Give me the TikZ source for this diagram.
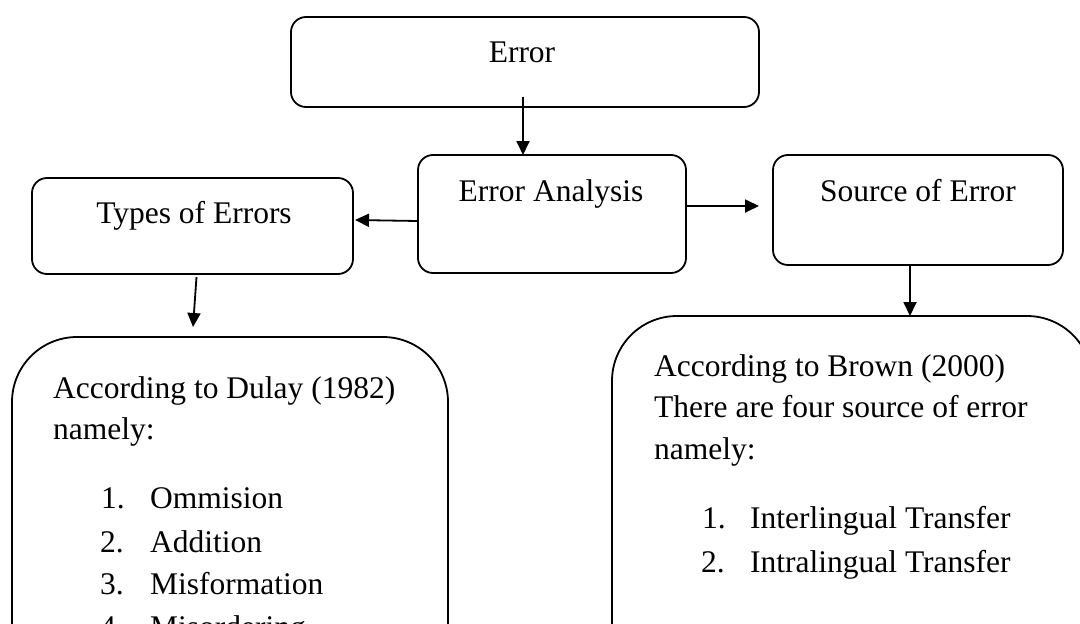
\documentclass[tikz,border=0pt]{standalone}
\usepackage{fontspec}
\setmainfont{Liberation Serif}
\usetikzlibrary{arrows.meta}
\tikzset{
  box/.style={draw, line width=1.8pt, rounded corners=15pt, inner sep=0pt, outer sep=0pt},
  bigbox/.style={draw, line width=1.8pt, rounded corners=65pt, inner sep=0pt, outer sep=0pt},
  txt/.style={anchor=base, inner sep=0pt, font=\fontsize{31.5}{40}\selectfont},
  txtl/.style={txt, anchor=base west},
  arr/.style={line width=1.8pt, -{Triangle[length=14pt,width=13pt]}}
}
\begin{document}
\begin{tikzpicture}[x=1pt, y=-1pt]
  \useasboundingbox (0,0) rectangle (1080,624);
  \clip (0,0) rectangle (1080,624);

  % upper boxes
  \node[box, minimum width=468pt, minimum height=90pt] (err) at (525,62) {};
  \node[box, minimum width=268pt, minimum height=118pt] (ea) at (552,214) {};
  \node[box, minimum width=321pt, minimum height=96pt] (types) at (192.5,226) {};
  \node[box, minimum width=290pt, minimum height=110pt] (src) at (918,210) {};

  % lower boxes (running past the lower edge)
  \node[bigbox, minimum width=436pt, minimum height=400pt] (lbox) at (230,537) {};
  \node[bigbox, minimum width=480pt, minimum height=420pt] (rbox) at (852,526) {};

  % box titles
  \node[txt] (terr) at (522,62) {Error};
  \node[txt] (tea) at (551,201) {Error Analysis};
  \node[txt] (ttypes) at (194,223) {Types of Errors};
  \node[txt] (tsrc) at (918,201) {Source of Error};

  % left list
  \node[txtl] (l1) at (53,398) {According to Dulay (1982)};
  \node[txtl] (l2) at (53,439) {namely:};
  \node[txtl] (n1) at (101,508) {1.};
  \node[txtl] (i1) at (150,508) {Ommision};
  \node[txtl] (n2) at (100,552) {2.};
  \node[txtl] (i2) at (150,552) {Addition};
  \node[txtl] (n3) at (100,594) {3.};
  \node[txtl] (i3) at (150,594) {Misformation};
  \node[txtl] (n4) at (100,637) {4.};
  \node[txtl] (i4) at (150,637) {Misordering};

  % right list
  \node[txtl] (r1) at (654,376) {According to Brown (2000)};
  \node[txtl] (r2) at (654,417) {There are four source of error};
  \node[txtl] (r3) at (654,459) {namely:};
  \node[txtl] (m1) at (702,528) {1.};
  \node[txtl] (j1) at (750,528) {Interlingual Transfer};
  \node[txtl] (m2) at (701,572) {2.};
  \node[txtl] (j2) at (750,572) {Intralingual Transfer};

  % connectors
  \coordinate (a0) at ([xshift=-2pt,yshift=10pt]err.south);
  \draw[arr] (a0) -- (a0 |- ea.north);
  \draw[arr] ([yshift=-7pt]ea.west) -- ([xshift=2pt,yshift=6pt]types.east);
  \draw[arr] ([yshift=8pt]ea.east) -- ([xshift=-14pt,yshift=4pt]src.west);
  \draw[arr] ([xshift=4pt,yshift=-3pt]types.south) -- ([xshift=-37pt,yshift=10pt]lbox.north);
  \coordinate (b0) at ([xshift=-8pt]src.south);
  \draw[arr] (b0) -- (b0 |- rbox.north);
\end{tikzpicture}
\end{document}
